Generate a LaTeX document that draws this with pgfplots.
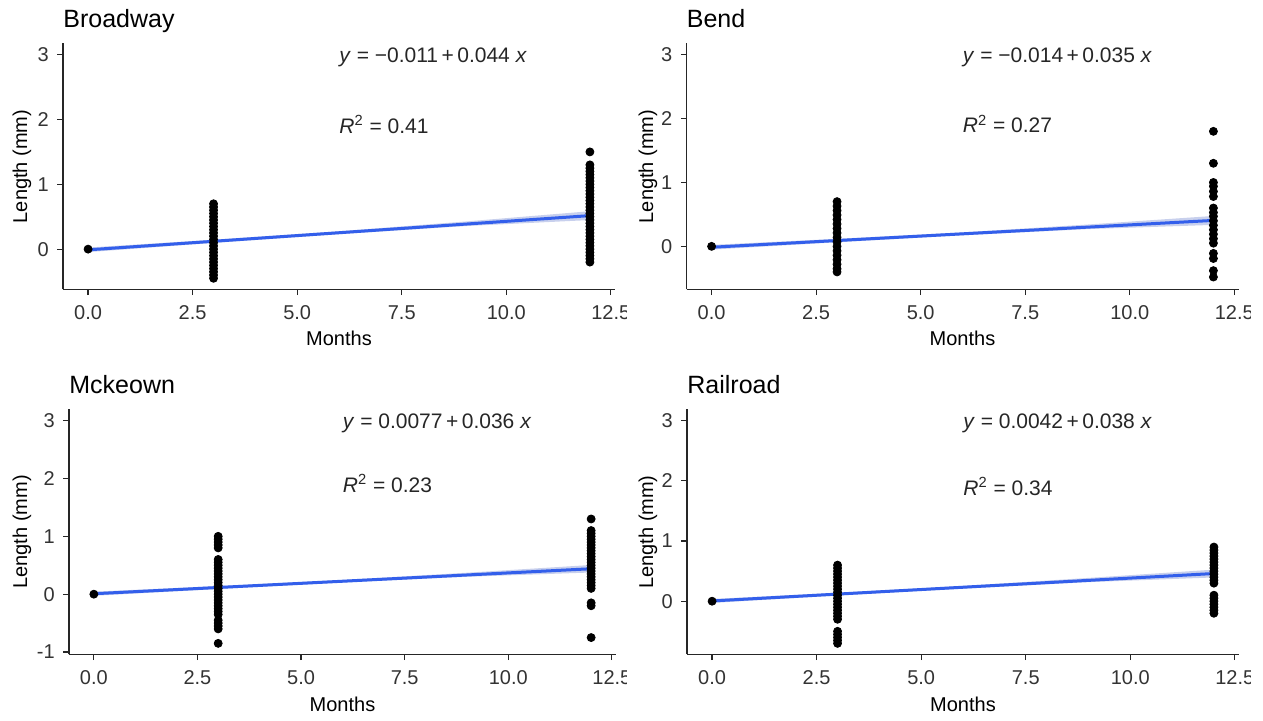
\documentclass[border=0pt]{standalone}
\usepackage{fontspec}
\setmainfont{Liberation Sans}
\usepackage{pgfplots}
\pgfplotsset{compat=1.18}
\definecolor{smoothblue}{RGB}{51,95,235}
\definecolor{bandcol}{RGB}{186,196,232}
\pgfplotsset{
  panel/.style={
    scale only axis,
    width=276pt, height=123pt,
    axis lines=left,
    axis line style={-, line width=0.6pt, black!85},
    xmin=-0.6, xmax=12.6,
    xtick={0,2.5,5,7.5,10,12.5},
    xticklabels={0.0,2.5,5.0,7.5,10.0,12.5},
    ytick={-1,0,1,2,3},
    tick align=outside,
    major tick length=2.8pt,
    tick style={black!85, line width=0.6pt},
    tick label style={font=\fontsize{10}{12}\selectfont, text=black!80},
    xticklabel style={yshift=-1.8pt},
    yticklabel style={xshift=-0.8pt},
    /pgf/number format/assume math mode=true,
    xlabel={Months}, ylabel={Length (mm)},
    label style={font=\fontsize{10.5}{12}\selectfont, text=black!85},
    every axis x label/.style={at={(axis description cs:0.5,0)}, anchor=center, yshift=-24.3pt},
    every axis title/.style={at={(axis description cs:0,1)}, anchor=base west, yshift=7.8pt, inner sep=0pt, font=\fontsize{12.5}{14}\selectfont},
    clip=false,
  },
  ylab/.style={every axis y label/.style={at={(axis description cs:#1,0.5)}, rotate=90, anchor=center}},
  pts/.style={only marks, mark=*, mark size=2pt, black},
  band/.style={draw=none, fill=bandcol, fill opacity=0.8},
  fitline/.style={smoothblue, line width=1.5pt},
}
\tikzset{eq/.style={anchor=west, font=\fontsize{10.5}{12}\selectfont, inner sep=0pt, text=black!85, yshift=-1.5pt},
  rsq/.style={eq, yshift=-1.2pt}}
\begin{document}
\begin{tikzpicture}
\useasboundingbox (0,0) rectangle (631.5pt,360.5pt);

% ---------------- Broadway ----------------
\begin{scope}
\clip (0,0) rectangle (313pt,360.5pt);
\begin{axis}[panel, ylab=-0.0743, at={(31.5pt,215.75pt)}, anchor=south west,
  ymin=-0.6225, ymax=3.1725, title={Broadway}]
\addplot[pts] coordinates {
(0,0)
(3,0.70)(3,0.65)(3,0.60)(3,0.55)(3,0.50)(3,0.45)(3,0.40)(3,0.35)(3,0.30)(3,0.25)(3,0.20)(3,0.15)
(3,0.10)(3,0.05)(3,0.00)(3,-0.05)(3,-0.10)(3,-0.15)(3,-0.20)(3,-0.25)(3,-0.30)(3,-0.35)(3,-0.40)(3,-0.45)
(12,1.50)(12,1.30)(12,1.25)(12,1.20)(12,1.15)(12,1.10)(12,1.05)(12,1.00)(12,0.95)(12,0.90)(12,0.85)
(12,0.80)(12,0.75)(12,0.70)(12,0.65)(12,0.60)(12,0.55)(12,0.50)(12,0.45)(12,0.40)(12,0.35)(12,0.30)
(12,0.25)(12,0.20)(12,0.15)(12,0.10)(12,0.05)(12,0.00)(12,-0.05)(12,-0.10)(12,-0.15)(12,-0.20)
};
\addplot[band] coordinates {(0,0.024)(3,0.146)(6,0.276)(9,0.425)(12,0.585)
  (12,0.449)(9,0.355)(6,0.230)(3,0.096)(0,-0.046)} -- cycle;
\addplot[fitline] coordinates {(0,-0.011)(12,0.517)};
\node[eq] at (axis cs:6,3) {\textit{y} = −0.011\,+\,0.044 \textit{x}};
\node[rsq] at (axis cs:6,2) {\textit{R}\textsuperscript{2} = 0.41};
\end{axis}
\end{scope}

% ---------------- Bend ----------------
\begin{scope}
\clip (0,0) rectangle (625pt,360.5pt);
\begin{axis}[panel, ylab=-0.0697, at={(343.25pt,215.75pt)}, anchor=south west,
  ymin=-0.675, ymax=3.175, title={Bend}]
\addplot[pts] coordinates {
(0,0)
(3,0.70)(3,0.63)(3,0.56)(3,0.49)(3,0.42)(3,0.35)(3,0.28)(3,0.21)(3,0.14)(3,0.07)(3,0.00)
(3,-0.07)(3,-0.14)(3,-0.21)(3,-0.28)(3,-0.35)(3,-0.40)
(12,1.80)(12,1.30)(12,1.00)(12,0.94)(12,0.86)(12,0.78)(12,0.60)(12,0.53)(12,0.47)(12,0.40)
(12,0.33)(12,0.26)(12,0.19)(12,0.12)(12,0.05)(12,-0.11)(12,-0.19)(12,-0.38)(12,-0.48)
};
\addplot[band] coordinates {(0,0.023)(3,0.118)(6,0.219)(9,0.342)(12,0.476)
  (12,0.336)(9,0.270)(6,0.173)(3,0.064)(0,-0.051)} -- cycle;
\addplot[fitline] coordinates {(0,-0.014)(12,0.406)};
\node[eq] at (axis cs:6,3) {\textit{y} = −0.014\,+\,0.035 \textit{x}};
\node[rsq] at (axis cs:6,2) {\textit{R}\textsuperscript{2} = 0.27};
\end{axis}
\end{scope}

% ---------------- Mckeown ----------------
\begin{scope}
\clip (0,0) rectangle (313pt,360.5pt);
\begin{axis}[panel, ylab=-0.0859, at={(34.5pt,33.25pt)}, anchor=south west,
  width=273.5pt, height=122.5pt,
  ymin=-1.0425, ymax=3.1925, title={Mckeown}, every axis x label/.append style={yshift=-0.5pt}]
\addplot[pts] coordinates {
(0,0)
(3,1.00)(3,0.95)(3,0.90)(3,0.85)(3,0.80)(3,0.60)(3,0.55)(3,0.50)(3,0.45)(3,0.40)(3,0.35)(3,0.30)
(3,0.25)(3,0.20)(3,0.15)(3,0.10)(3,0.05)(3,0.00)(3,-0.05)(3,-0.10)(3,-0.15)(3,-0.20)(3,-0.25)
(3,-0.30)(3,-0.35)(3,-0.45)(3,-0.50)(3,-0.55)(3,-0.60)(3,-0.85)
(12,1.30)(12,1.10)(12,1.05)(12,1.00)(12,0.95)(12,0.90)(12,0.85)(12,0.80)(12,0.75)(12,0.70)
(12,0.65)(12,0.60)(12,0.55)(12,0.50)(12,0.45)(12,0.40)(12,0.35)(12,0.30)(12,0.25)(12,0.20)
(12,0.15)(12,0.10)(12,-0.15)(12,-0.20)(12,-0.75)
};
\addplot[band] coordinates {(0,0.043)(3,0.141)(6,0.246)(9,0.371)(12,0.505)
  (12,0.375)(9,0.301)(6,0.202)(3,0.089)(0,-0.028)} -- cycle;
\addplot[fitline] coordinates {(0,0.0077)(12,0.4397)};
\node[eq] at (axis cs:6,3) {\textit{y} = 0.0077\,+\,0.036 \textit{x}};
\node[rsq] at (axis cs:6,2) {\textit{R}\textsuperscript{2} = 0.23};
\end{axis}
\end{scope}

% ---------------- Railroad ----------------
\begin{scope}
\clip (0,0) rectangle (625pt,360.5pt);
\begin{axis}[panel, ylab=-0.0707, at={(343.5pt,33.25pt)}, anchor=south west,
  height=122.5pt,
  ymin=-0.885, ymax=3.185, title={Railroad}, every axis x label/.append style={yshift=-0.5pt}]
\addplot[pts] coordinates {
(0,0)
(3,0.60)(3,0.55)(3,0.50)(3,0.45)(3,0.40)(3,0.35)(3,0.30)(3,0.25)(3,0.20)(3,0.15)(3,0.10)(3,0.05)
(3,0.00)(3,-0.05)(3,-0.10)(3,-0.15)(3,-0.20)(3,-0.25)(3,-0.30)(3,-0.50)(3,-0.55)(3,-0.60)(3,-0.65)(3,-0.70)
(12,0.90)(12,0.85)(12,0.80)(12,0.75)(12,0.70)(12,0.65)(12,0.60)(12,0.55)(12,0.50)(12,0.45)
(12,0.40)(12,0.35)(12,0.30)(12,0.10)(12,0.05)(12,0.00)(12,-0.05)(12,-0.10)(12,-0.15)(12,-0.20)
};
\addplot[band] coordinates {(0,0.037)(3,0.141)(6,0.255)(9,0.387)(12,0.525)
  (12,0.395)(9,0.317)(6,0.209)(3,0.095)(0,-0.029)} -- cycle;
\addplot[fitline] coordinates {(0,0.0042)(12,0.4602)};
\node[eq] at (axis cs:6,3) {\textit{y} = 0.0042\,+\,0.038 \textit{x}};
\node[rsq] at (axis cs:6,2) {\textit{R}\textsuperscript{2} = 0.34};
\end{axis}
\end{scope}
\end{tikzpicture}
\end{document}
